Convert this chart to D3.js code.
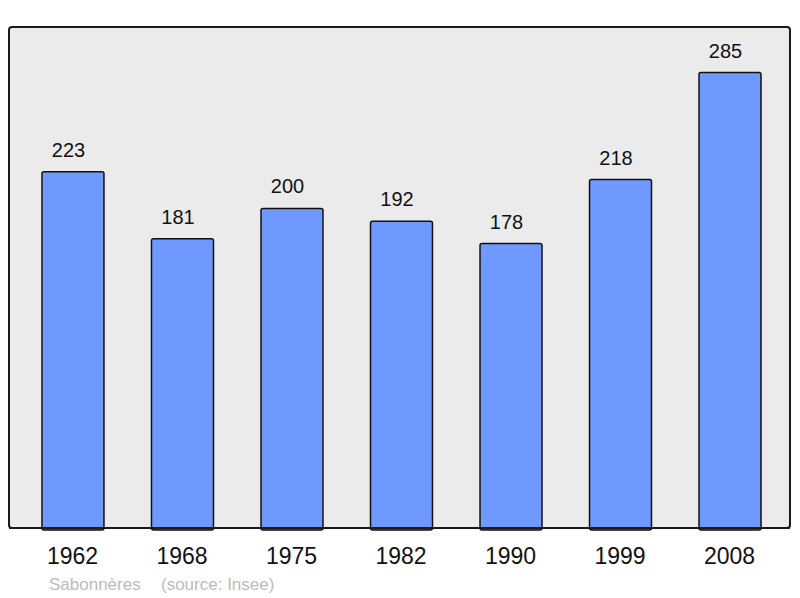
<!DOCTYPE html>
<html>
<head>
<meta charset="utf-8">
<script src="https://cdnjs.cloudflare.com/ajax/libs/d3/7.8.5/d3.min.js"></script>
<style>
  body { margin: 0; background: #fff; }
  text { font-family: "Liberation Sans", Arial, sans-serif; }
</style>
</head>
<body>
<div id="chart"></div>
<script>
// Data
const years = ['1962', '1968', '1975', '1982', '1990', '1999', '2008'];
const population = [223, 181, 200, 192, 178, 218, 285];
const commune = 'Sabonnères';
const source = '(source: Insee)';

const W = 800, H = 598;
const frame = { left: 9, top: 27, right: 790, bottom: 528 };

const svg = d3.select('#chart')
    .append('svg')
    .attr('width', W)
    .attr('height', H);

// plot background
svg.append('rect')
    .attr('x', frame.left)
    .attr('y', frame.top)
    .attr('width', frame.right - frame.left)
    .attr('height', frame.bottom - frame.top)
    .attr('rx', 3)
    .style('fill', '#ebebeb')
    .style('stroke', '#1a1a1a')
    .style('stroke-width', 2);

const xScale = d3.scaleBand()
    .domain(years)
    .range([11, 792])
    .paddingInner(0.434)
    .paddingOuter(0.283);

const yScale = d3.scaleLinear()
    .domain([0, d3.max(population) * 1.1])
    .range([frame.bottom, frame.top]);

const data = years.map((y, i) => ({ year: y, value: population[i] }));

// bars
svg.selectAll('.bar')
    .data(data)
    .join('rect')
    .attr('class', 'bar')
    .attr('x', d => xScale(d.year))
    .attr('y', d => yScale(d.value))
    .attr('width', xScale.bandwidth())
    .attr('height', d => frame.bottom - yScale(d.value) + 2)
    .attr('rx', 2)
    .style('fill', '#7099ff')
    .style('stroke', '#111')
    .style('stroke-width', 1.5);

// redraw bottom frame line on top of bars
svg.append('line')
    .attr('x1', frame.left)
    .attr('x2', frame.right)
    .attr('y1', frame.bottom)
    .attr('y2', frame.bottom)
    .style('stroke', '#1a1a1a')
    .style('stroke-width', 2);

// value labels (sit slightly left of the bar centre, as in the original)
svg.selectAll('.val')
    .data(data)
    .join('text')
    .attr('class', 'val')
    .attr('x', d => xScale(d.year) + xScale.bandwidth() / 2 - 4.5)
    .attr('y', d => yScale(d.value) - 15)
    .attr('text-anchor', 'middle')
    .style('font-size', '20px')
    .style('fill', '#111')
    .text(d => d.value);

// year labels
svg.selectAll('.year')
    .data(data)
    .join('text')
    .attr('class', 'year')
    .attr('x', d => xScale(d.year) + xScale.bandwidth() / 2 - 0.5)
    .attr('y', 564)
    .attr('text-anchor', 'middle')
    .style('font-size', '23px')
    .style('fill', '#111')
    .text(d => d.year);

// footer
svg.append('text')
    .attr('x', 49)
    .attr('y', 590)
    .style('font-size', '17px')
    .style('fill', '#bbbbbb')
    .text(commune);

svg.append('text')
    .attr('x', 161)
    .attr('y', 590)
    .style('font-size', '17px')
    .style('fill', '#bbbbbb')
    .text(source);
</script>
</body>
</html>
